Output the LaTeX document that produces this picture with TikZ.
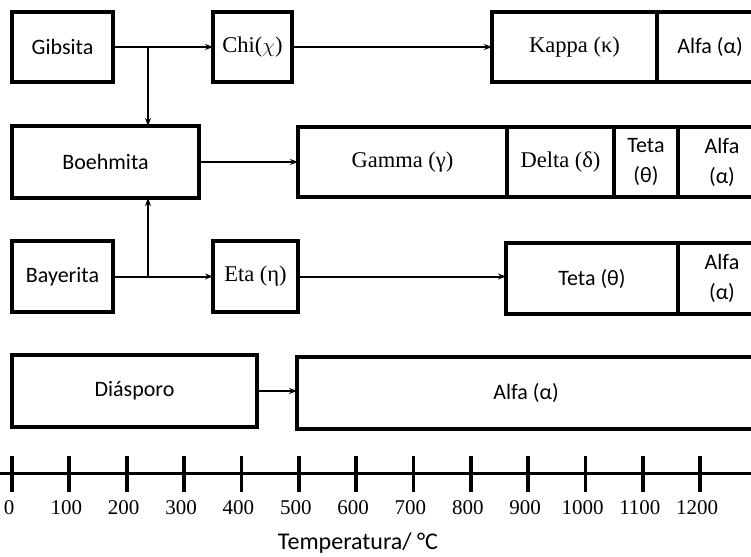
\documentclass[tikz,border=0pt]{standalone}
\usepackage{fontspec}
\setmainfont{Liberation Serif}
\newfontfamily\calfont{Carlito}
\usetikzlibrary{arrows.meta}
\begin{document}
\begin{tikzpicture}[x=1pt,y=-1pt,
  cell/.style={draw,line width=3.2pt,inner sep=0pt,outer sep=0pt,anchor=north west,align=center},
  sanslbl/.style={font=\calfont\fontsize{22}{30}\selectfont},
  seriflbl/.style={font=\fontsize{22.5}{27}\selectfont},
  conn/.style={line width=2pt,-{Stealth[length=8pt,width=6pt]}},
  ticklbl/.style={font=\fontsize{21}{24}\selectfont},
]
\useasboundingbox (0,0) rectangle (751,556);
% row 1
\node[cell,sanslbl,minimum width=101,minimum height=70] (gib) at (12,12) {Gibsita};
\node[cell,seriflbl,minimum width=79,minimum height=70] (chi) at (213,12) {Chi($\chi$)};
\node[cell,seriflbl,minimum width=165,minimum height=70] (kap) at (492,12) {Kappa (κ)};
\node[cell,sanslbl,minimum width=106,minimum height=70] (alf1) at (657,12) {Alfa (α)};
% row 2
\node[cell,sanslbl,minimum width=187,minimum height=72] (boe) at (12,126) {Boehmita};
\node[cell,seriflbl,minimum width=209,minimum height=70] (gam) at (298,127) {Gamma (γ)};
\node[cell,seriflbl,minimum width=107,minimum height=70] (del) at (507,127) {Delta (δ)};
\node[cell,sanslbl,minimum width=64,minimum height=70] (tet2) at (614,127) {Teta\\(θ)};
\node[cell,sanslbl,minimum width=88,minimum height=70] (alf2) at (678,127) {Alfa\\(α)};
% row 3
\node[cell,sanslbl,minimum width=101,minimum height=71] (bay) at (12,241) {Bayerita};
\node[cell,seriflbl,minimum width=85,minimum height=71] (eta) at (213,241) {Eta (η)};
\node[cell,sanslbl,minimum width=172,minimum height=71] (tet3) at (506,243) {Teta (θ)};
\node[cell,sanslbl,minimum width=88,minimum height=71] (alf3) at (678,243) {Alfa\\(α)};
% row 4
\node[cell,sanslbl,minimum width=245,minimum height=72] (dia) at (12,355) {Diásporo};
\node[cell,sanslbl,minimum width=458,minimum height=72] (alf4) at (297,357) {Alfa (α)};
% connectors
\draw[conn] (gib.east) -- (chi.west);
\coordinate (j1) at (148,0);
\draw[conn] (j1 |- gib.east) -- (j1 |- boe.north);
\draw[conn] (chi.east) -- (chi.east -| kap.west);
\draw[conn] (boe.east) -- (boe.east -| gam.west);
\draw[conn] (bay.east) -- (eta.west);
\draw[conn] (j1 |- bay.east) -- (j1 |- boe.south);
\draw[conn] (eta.east) -- (eta.east -| tet3.west);
\draw[conn] (dia.east) -- (dia.east -| alf4.west);
% axis
\coordinate (axL) at (0,473);
\coordinate (axR) at (751,473);
\draw[line width=3pt] (axL) -- (axR);
\foreach \k/\lab in {0/0,1/100,2/200,3/300,4/400,5/500,6/600,7/700,8/800,9/900,10/1000,11/1100,12/1200}{
  \draw[line width=3.8pt] ({12+57.35*\k},456) -- ({12+57.35*\k},492);
  \node[ticklbl] (tl\k) at ({9+57.35*\k},508) {\lab};
}
\node[font=\calfont\fontsize{24}{28}\selectfont] (temp) at (358,543) {Temperatura/ °C};
\end{tikzpicture}
\end{document}
